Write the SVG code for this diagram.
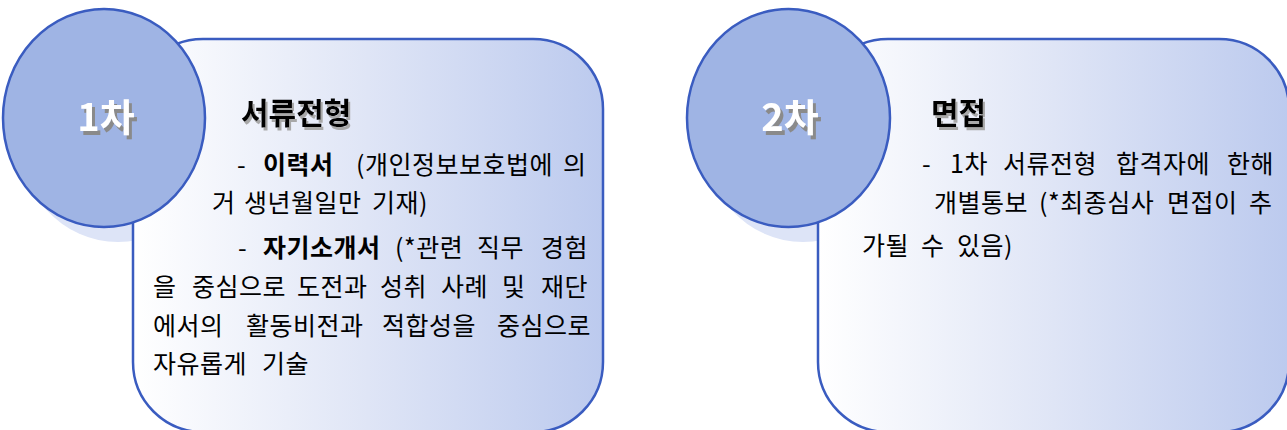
<svg xmlns="http://www.w3.org/2000/svg" width="1287" height="430" viewBox="0 0 1287 430">
<defs>
<linearGradient id="boxGrad" x1="0" y1="0" x2="1" y2="0">
<stop offset="0" stop-color="#ffffff"/>
<stop offset="0.5" stop-color="#dfe5f6"/>
<stop offset="1" stop-color="#bccaee"/>
</linearGradient>
<filter id="tshadow" x="-20%" y="-20%" width="150%" height="150%">
<feOffset in="SourceAlpha" dx="3" dy="4" result="o"/>
<feFlood flood-color="#8a8a8a"/>
<feComposite in2="o" operator="in" result="s"/>
<feMerge><feMergeNode in="s"/><feMergeNode in="SourceGraphic"/></feMerge>
</filter>
<filter id="hshadow" x="-20%" y="-20%" width="150%" height="150%">
<feOffset in="SourceAlpha" dx="2" dy="3" result="o"/>
<feFlood flood-color="#a8a8a8"/>
<feComposite in2="o" operator="in" result="s"/>
<feMerge><feMergeNode in="s"/><feMergeNode in="SourceGraphic"/></feMerge>
</filter>
</defs>
<style>
.box{fill:url(#boxGrad);stroke:#3a5cc0;stroke-width:2.5}
.circ{fill:#9fb4e4;stroke:#3a5cc0;stroke-width:2.5}
.shad{fill:#dde4f7}
.num{font-family:"Noto Sans CJK KR","Noto Sans",sans-serif;font-weight:bold;font-size:38px;fill:#ffffff;text-anchor:middle;filter:url(#tshadow)}
.head{font-family:"Noto Sans CJK KR","Noto Sans",sans-serif;font-weight:bold;font-size:30px;fill:#000000;filter:url(#hshadow)}
.body{font-family:"Noto Sans CJK KR","Noto Sans",sans-serif;font-size:25px;letter-spacing:0.5px;fill:#000000}
.b{font-weight:bold}
</style>
<g id="connectors"></g>
<g id="node-1">
<ellipse class="shad" cx="118" cy="133" rx="101" ry="109"/>
<rect class="box" x="133" y="39" width="470" height="393" rx="70" ry="70"/>
<ellipse class="circ" cx="104" cy="118" rx="101" ry="109"/>
<text class="num" x="106" y="131">1차</text>
<text class="head" x="241" y="124">서류전형</text>
<text class="body">
<tspan x="237" y="174">-</tspan><tspan x="263" y="174" class="b">이력서</tspan><tspan x="356" y="174">(개인정보보호법에</tspan><tspan x="563" y="174">의</tspan>
<tspan x="212" y="212">거</tspan><tspan x="244" y="212">생년월일만</tspan><tspan x="372" y="212">기재)</tspan>
<tspan x="238" y="257">-</tspan><tspan x="263" y="257" class="b">자기소개서</tspan><tspan x="395" y="257">(*관련</tspan><tspan x="477" y="257">직무</tspan><tspan x="541" y="257">경험</tspan>
<tspan x="153" y="296">을</tspan><tspan x="192" y="296">중심으로</tspan><tspan x="297" y="296">도전과</tspan><tspan x="380" y="296">성취</tspan><tspan x="441" y="296">사례</tspan><tspan x="502" y="296">및</tspan><tspan x="541" y="296">재단</tspan>
<tspan x="153" y="335">에서의</tspan><tspan x="246" y="335">활동비전과</tspan><tspan x="382" y="335">적합성을</tspan><tspan x="497" y="335">중심으로</tspan>
<tspan x="153" y="373">자유롭게</tspan><tspan x="262" y="373">기술</tspan>
</text>
</g>
<g id="node-2">
<ellipse class="shad" cx="803" cy="133" rx="101" ry="109"/>
<rect class="box" x="818" y="39" width="471" height="393" rx="70" ry="70"/>
<ellipse class="circ" cx="788.5" cy="118" rx="101.5" ry="109"/>
<text class="num" x="790" y="131">2차</text>
<text class="head" x="931" y="124">면접</text>
<text class="body">
<tspan x="922" y="173">-</tspan><tspan x="950" y="173">1차</tspan><tspan x="1003" y="173">서류전형</tspan><tspan x="1116" y="173">합격자에</tspan><tspan x="1227" y="173">한해</tspan>
<tspan x="934" y="212">개별통보</tspan><tspan x="1039" y="212">(*최종심사</tspan><tspan x="1167" y="212">면접이</tspan><tspan x="1249" y="212">추</tspan>
<tspan x="862" y="255">가될</tspan><tspan x="921" y="255">수</tspan><tspan x="957" y="255">있음)</tspan>
</text>
</g>
</svg>
